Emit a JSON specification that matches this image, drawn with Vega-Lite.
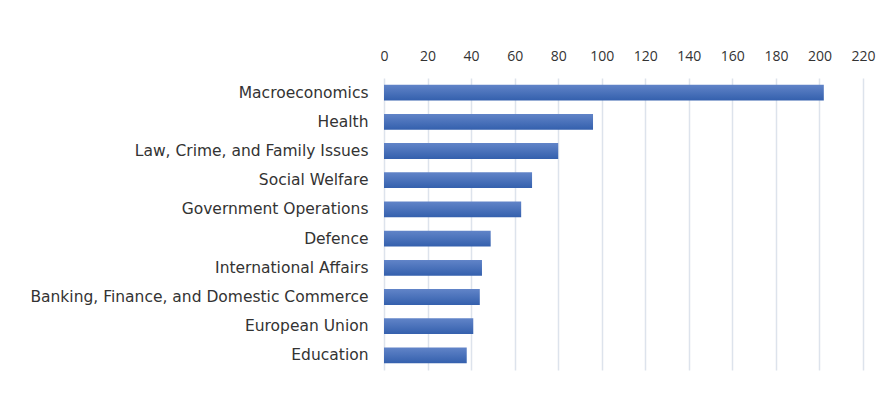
{
  "$schema": "https://vega.github.io/schema/vega-lite/v6.json",
  "width": 479,
  "height": 292,
  "autosize": {"type": "none"},
  "padding": {"left": 384, "top": 78, "right": 23, "bottom": 33},
  "background": "white",
  "config": {
    "view": {"stroke": null},
    "font": "DejaVu Sans"
  },
  "data": {
    "values": [
      {"topic": "Macroeconomics", "count": 202},
      {"topic": "Health", "count": 96},
      {"topic": "Law, Crime, and Family Issues", "count": 80},
      {"topic": "Social Welfare", "count": 68},
      {"topic": "Government Operations", "count": 63},
      {"topic": "Defence", "count": 49},
      {"topic": "International Affairs ", "count": 45},
      {"topic": "Banking, Finance, and Domestic Commerce", "count": 44},
      {"topic": "European Union", "count": 41},
      {"topic": "Education", "count": 38}
    ]
  },
  "mark": {
    "type": "bar",
    "color": {
      "gradient": "linear",
      "x1": 0, "y1": 0, "x2": 0, "y2": 1,
      "stops": [
        {"offset": 0, "color": "#6184c8"},
        {"offset": 1, "color": "#3460ad"}
      ]
    }
  },
  "encoding": {
    "y": {
      "field": "topic",
      "type": "nominal",
      "sort": null,
      "title": null,
      "scale": {"paddingInner": 0.46, "paddingOuter": 0.23},
      "axis": {
        "domain": false,
        "ticks": false,
        "labelPadding": 16,
        "labelFont": "DejaVu Sans",
        "labelFontSize": 15.5,
        "labelColor": "#333333",
        "labelLimit": 400
      }
    },
    "x": {
      "field": "count",
      "type": "quantitative",
      "title": null,
      "scale": {"domain": [0, 220], "nice": false},
      "axis": {
        "orient": "top",
        "values": [0, 20, 40, 60, 80, 100, 120, 140, 160, 180, 200, 220],
        "domain": false,
        "ticks": false,
        "grid": true,
        "gridColor": "#dde3ec",
        "gridWidth": 1.5,
        "labelPadding": 15,
        "labelFont": "Open Sans",
        "labelFontSize": 14,
        "labelColor": "#333333",
        "labelFlush": false
      }
    }
  }
}
